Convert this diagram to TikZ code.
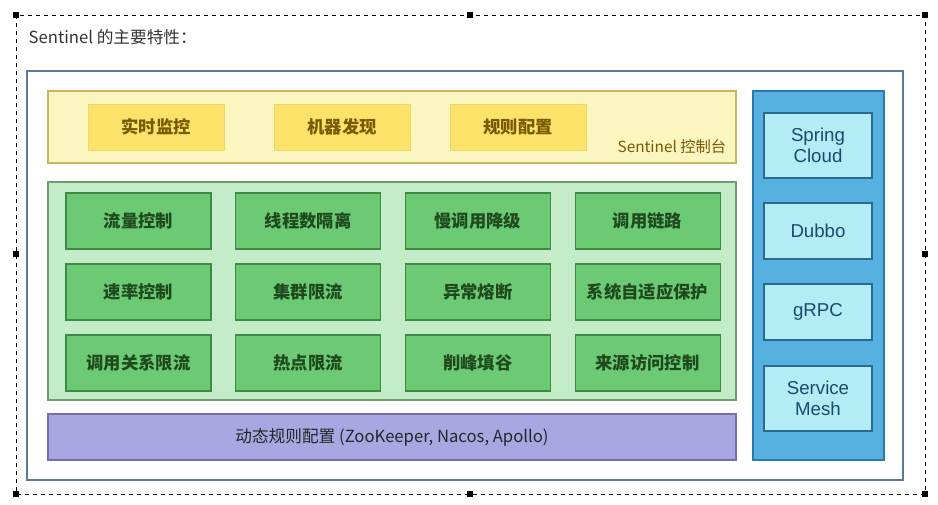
\documentclass[tikz,border=0pt]{standalone}
\usepackage{fontspec}
\setmainfont{Noto Sans CJK SC}
\newfontfamily\latn{Liberation Sans}
\definecolor{ylpanel}{HTML}{FBF5C0}
\definecolor{ylborder}{HTML}{C8B560}
\definecolor{ylbox}{HTML}{FBE36A}
\definecolor{ylboxb}{HTML}{F2D56A}
\definecolor{yltext}{HTML}{7A5A00}
\definecolor{grpanel}{HTML}{C5ECC8}
\definecolor{grborder}{HTML}{6AA06A}
\definecolor{grbox}{HTML}{6DCA74}
\definecolor{grboxb}{HTML}{3D8A45}
\definecolor{grtext}{HTML}{1E4A1E}
\definecolor{pupanel}{HTML}{A9A7E2}
\definecolor{puborder}{HTML}{7A6AB0}
\definecolor{blpanel}{HTML}{56B0E0}
\definecolor{blborder}{HTML}{2A7AB0}
\definecolor{blbox}{HTML}{B2ECF4}
\definecolor{blboxb}{HTML}{2A6A90}
\definecolor{bltext}{HTML}{1A4A70}
\definecolor{mainb}{HTML}{5A7A9A}
\begin{document}
\begin{tikzpicture}[x=0.75pt,y=-0.75pt,
 panel/.style={draw,line width=1pt},
 ybox/.style={draw=ylboxb,fill=ylbox,text=yltext,font=\fontsize{13}{15}\selectfont\bfseries},
 gbox/.style={draw=grboxb,fill=grbox,line width=0.9pt,text=grtext,font=\fontsize{13}{15}\selectfont\bfseries},
 bbox/.style={draw=blboxb,fill=blbox,line width=0.9pt,text=bltext,font=\latn\fontsize{14}{15.5}\selectfont,align=center},
 hdl/.style={fill=black,minimum size=5pt,inner sep=0pt}]
\useasboundingbox (0,0) rectangle (938,504);
\draw[dashed,line width=0.7pt] (16,15) rectangle (925,494);
\foreach \p/\n in {{16,15}/h1,{470,15}/h2,{925,15}/h3,{16,254}/h4,{925,254}/h5,{16,494}/h6,{470,494}/h7,{925,494}/h8}
  \node[hdl] (\n) at (\p) {};
\node[anchor=west,font=\fontsize{12.5}{14}\selectfont,text=black!80] (title) at (24,37) {Sentinel 的主要特性：};
\draw[panel,draw=mainb,fill=white] (27,71) rectangle (903,480);
% yellow
\draw[panel,draw=ylborder,fill=ylpanel] (48,91) rectangle (736,163);
\node[ybox,minimum width=102pt,minimum height=34.5pt] (y1) at (156,127) {实时监控};
\node[ybox,minimum width=102pt,minimum height=34.5pt] (y2) at (342,127) {机器发现};
\node[ybox,minimum width=102pt,minimum height=34.5pt] (y3) at (518,127) {规则配置};
\node[anchor=east,text=yltext,font=\fontsize{11.5}{13}\selectfont] (ct) at (731,147) {Sentinel 控制台};
% green
\draw[panel,draw=grborder,fill=grpanel] (48,182) rectangle (736,400);
\foreach \t [count=\i] in {流量控制,线程数隔离,慢调用降级,调用链路,速率控制,集群限流,异常熔断,系统自适应保护,调用关系限流,热点限流,削峰填谷,来源访问控制}{
  \pgfmathtruncatemacro\c{mod(\i-1,4)}
  \pgfmathtruncatemacro\r{int((\i-1)/4)}
  \pgfmathsetmacro\xx{138.5+169.7*\c}
  \pgfmathsetmacro\yy{221+71*\r}
  \node[gbox,minimum width=108.75pt,minimum height=42pt] (g\i) at (\xx,\yy) {\t};
}
% purple
\draw[panel,draw=puborder,fill=pupanel] (48,414) rectangle (736,460);
\node[font=\fontsize{12.5}{14}\selectfont,text=black!85] (dyn) at (392,437) {动态规则配置 (ZooKeeper, Nacos, Apollo)};
% blue
\draw[panel,draw=blborder,fill=blpanel] (753,91) rectangle (884,460);
\node[bbox,minimum width=81pt,minimum height=48.75pt] (b1) at (818,145.5) {Spring\\Cloud};
\node[bbox,minimum width=81pt,minimum height=42pt] (b2) at (818,231) {Dubbo};
\node[bbox,minimum width=81pt,minimum height=42pt] (b3) at (818,312) {gRPC};
\node[bbox,minimum width=81pt,minimum height=48.75pt] (b4) at (818,398.5) {Service\\Mesh};
\end{tikzpicture}
\end{document}
